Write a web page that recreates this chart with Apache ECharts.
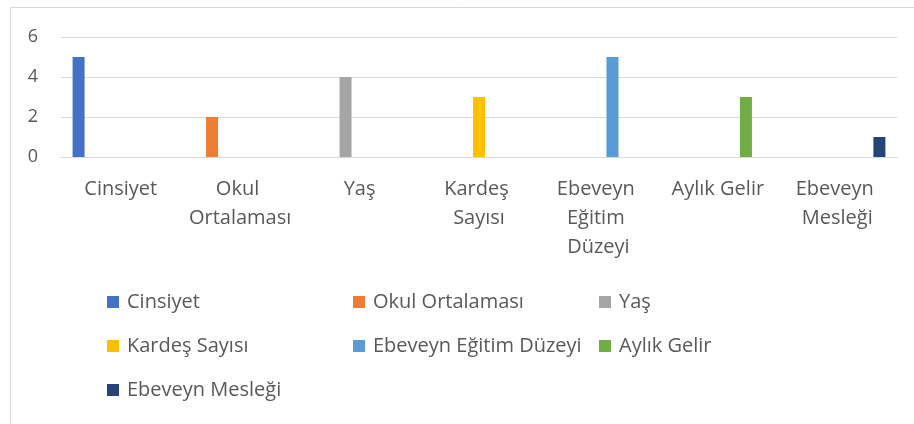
<!DOCTYPE html>
<html>
<head>
<meta charset="utf-8">
<script src="https://cdn.jsdelivr.net/npm/echarts@6/dist/echarts.min.js"></script>
<style>
html,body{margin:0;padding:0;background:#fff;}
#chart{width:914px;height:424px;}
</style>
</head>
<body>
<div id="chart"></div>
<script>
const categories = ["Cinsiyet", "Okul Ortalaması", "Yaş", "Kardeş Sayısı", "Ebeveyn Eğitim Düzeyi", "Aylık Gelir", "Ebeveyn Mesleği"];
const values = [5, 2, 4, 3, 5, 3, 1];
const colors = ["#4472C4", "#ED7D31", "#A5A5A5", "#FFC000", "#5B9BD5", "#70AD47", "#264478"];
const yTicks = [0, 2, 4, 6];

const FONT = "'Open Sans', 'Noto Sans', sans-serif";
const TXT = "#595959";

const series = categories.map((name, i) => ({
  name: name,
  type: 'bar',
  barWidth: 12,
  barGap: '17%',
  itemStyle: { color: colors[i] },
  data: categories.map((c, j) => (j === i ? values[i] : null))
}));

const chart = echarts.init(document.getElementById('chart'), null, { renderer: 'canvas' });
chart.setOption({
  animation: false,
  backgroundColor: '#ffffff',
  color: colors,
  textStyle: { fontFamily: FONT },
  graphic: [{
    type: 'rect',
    silent: true,
    z: -10,
    shape: { x: 10.5, y: 7.5, width: 1000, height: 1000 },
    style: { fill: 'none', stroke: '#d9d9d9', lineWidth: 1 }
  }],
  grid: { left: 61, right: 17, top: 37, bottom: 267 },
  xAxis: {
    type: 'category',
    data: categories,
    axisLine: { show: true, lineStyle: { color: '#d9d9d9', width: 1 } },
    axisTick: { show: false },
    axisLabel: {
      interval: 0,
      color: TXT,
      fontFamily: FONT,
      fontSize: 20,
      lineHeight: 29,
      margin: 18,
      width: 119,
      overflow: 'break',
      align: 'center'
    }
  },
  yAxis: {
    type: 'value',
    min: yTicks[0],
    max: yTicks[yTicks.length - 1],
    interval: yTicks[1] - yTicks[0],
    axisLine: { show: false },
    axisTick: { show: false },
    splitLine: { lineStyle: { color: '#d9d9d9', width: 1 } },
    axisLabel: { color: TXT, fontFamily: FONT, fontSize: 18, margin: 23 }
  },
  legend: {
    left: 107,
    top: 285,
    width: 740,
    padding: 0,
    orient: 'horizontal',
    icon: 'rect',
    itemWidth: 12,
    itemHeight: 12,
    itemGap: 10,
    data: categories,
    textStyle: {
      color: TXT,
      fontFamily: FONT,
      fontSize: 20,
      lineHeight: 34,
      width: 216,
      overflow: 'truncate',
      padding: [0, 0, 0, 3]
    }
  },
  series: series
});
</script>
</body>
</html>
